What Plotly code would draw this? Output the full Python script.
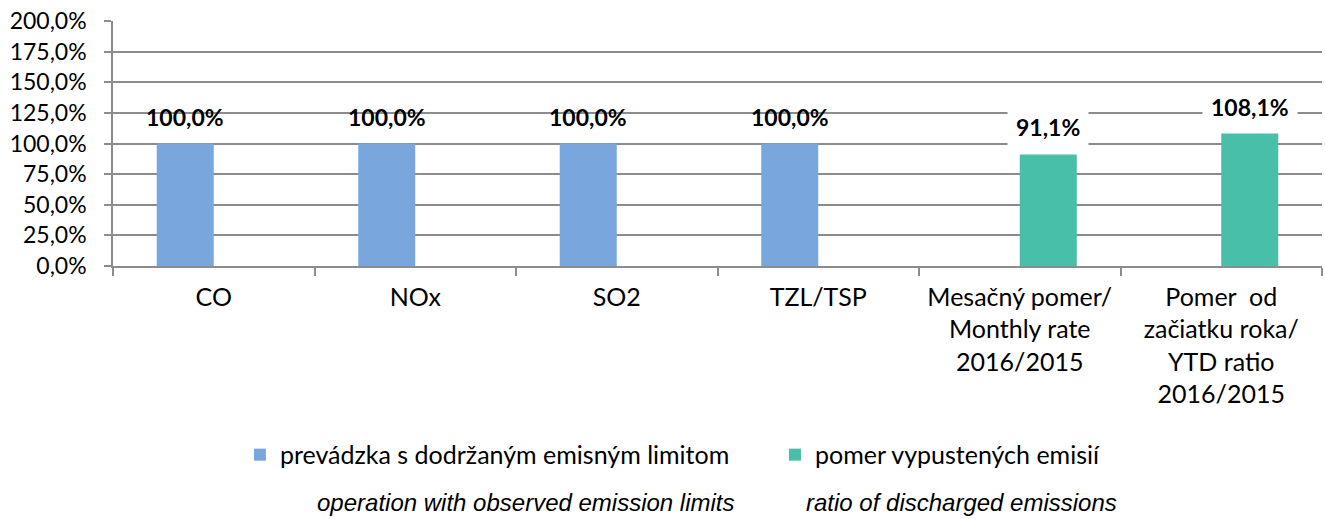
import plotly.graph_objects as go

categories = ["CO", "NOx", "SO2", "TZL/TSP",
              "Mesačný pomer/<br>Monthly rate<br>2016/2015",
              "Pomer  od<br>začiatku roka/<br>YTD ratio<br>2016/2015"]
limit_values = [1.0, 1.0, 1.0, 1.0, None, None]
ratio_values = [None, None, None, None, 0.911, 1.081]
series_names = ["prevádzka s dodržaným emisným limitom", "pomer vypustených emisií"]
series_notes = ["operation with observed emission limits", "ratio of discharged emissions"]
y_ticks = [0, 0.25, 0.5, 0.75, 1.0, 1.25, 1.5, 1.75, 2.0]

BLUE = "#79A7DD"
GREEN = "#48BFA8"
GRID = "#8C8C8C"
FONT = "Lato"

fig = go.Figure()
fig.add_trace(go.Bar(x=categories, y=limit_values, name=series_names[0],
                     marker=dict(color=BLUE, line=dict(width=0))))
fig.add_trace(go.Bar(x=categories, y=ratio_values, name=series_names[1],
                     marker=dict(color=GREEN, line=dict(width=0))))

annotations = []
for series_idx, vals in enumerate([limit_values, ratio_values]):
    for i, (c, v) in enumerate(zip(categories, vals)):
        if v is None:
            continue
        txt = f"{v*100:.1f}%".replace(".", ",")
        annotations.append(dict(
            x=c, y=v, xref="x", yref="y", text=f"<b>{txt}</b>", showarrow=False,
            xshift=-28.5 if series_idx == 0 else 28.5, yshift=27,
            font=dict(family=FONT, size=23, color="#000000"),
            bgcolor="white" if series_idx == 1 else "rgba(0,0,0,0)",
            borderpad=8 if series_idx == 1 else 0,
        ))

for note, xc in zip(series_notes, [0.3416, 0.702]):
    annotations.append(dict(
        x=xc, y=-0.965, xref="paper", yref="paper", text=f"<i>{note}</i>",
        showarrow=False, xanchor="center", yanchor="middle",
        font=dict(family="Liberation Sans", size=24, color="#000000"),
    ))

fig.update_layout(
    width=1325, height=519,
    margin=dict(l=113, r=3, t=21, b=253),
    paper_bgcolor="white", plot_bgcolor="white",
    separators=", ",
    barmode="group", bargap=0.434, bargroupgap=0,
    font=dict(family=FONT, size=23, color="#000000"),
    showlegend=True,
    legend=dict(orientation="h", x=0.105, xanchor="left", y=-0.771, yanchor="middle",
                font=dict(family=FONT, size=25, color="#000000"),
                itemwidth=30, traceorder="normal", entrywidth=490),
    annotations=annotations,
    xaxis=dict(type="category", showgrid=False, showline=True, linecolor=GRID, linewidth=1.5,
               ticks="outside", tickson="boundaries", ticklen=8, tickcolor=GRID, tickwidth=1.5,
               ticklabelstandoff=8,
               tickfont=dict(family=FONT, size=25, color="#000000")),
    yaxis=dict(range=[0, 2.0], tickvals=y_ticks, tickformat=".1%", showgrid=True,
               gridcolor=GRID, gridwidth=1.5, showline=True, linecolor=GRID, linewidth=1.5,
               ticks="outside", ticklen=7, tickcolor=GRID, tickwidth=1.5, zeroline=False,
               ticklabelstandoff=13,
               tickfont=dict(family=FONT, size=23, color="#000000")),
)

fig.write_html("out.html")
